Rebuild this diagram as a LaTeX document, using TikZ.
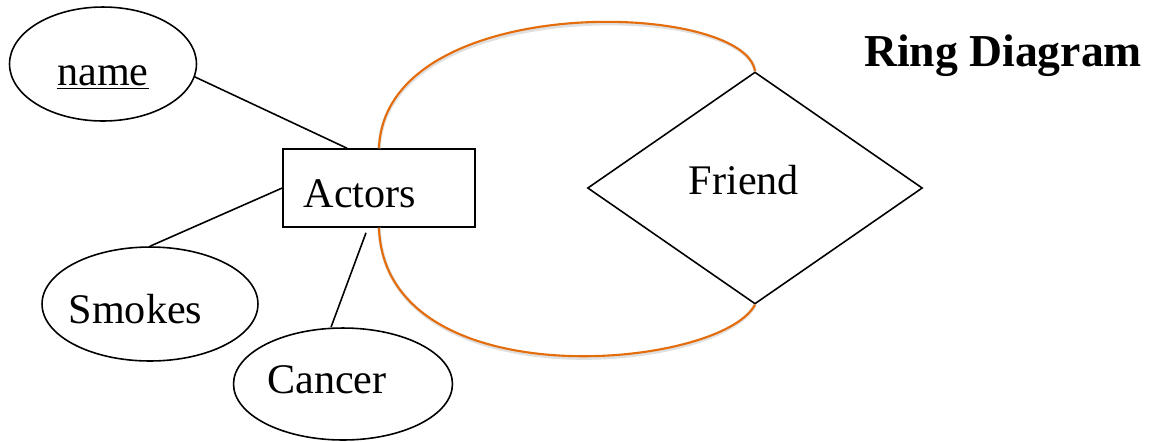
\documentclass[tikz,border=0pt]{standalone}
\usepackage{fontspec}
\setmainfont{Liberation Serif}
\usetikzlibrary{shapes.geometric}

\definecolor{ringorange}{RGB}{228,108,10}
% move a label inside its shape without changing the shape
\newcommand{\nudge}[3]{\raisebox{#2}[\height][\depth]{\hspace*{#1}#3\hspace*{-#1}}}

\begin{document}
\begin{tikzpicture}[x=0.02cm, y=-0.02cm]
    \tikzset{attr/.style={draw, ellipse, line width=0.9pt, minimum height=2.28cm,
                          font=\fontsize{24}{28}\selectfont}}
    \tikzset{entity/.style={draw, rectangle, line width=0.9pt, minimum width=3.84cm,
                            minimum height=1.56cm, font=\fontsize{24}{28}\selectfont}}
    \tikzset{rel/.style={draw, diamond, line width=0.9pt, inner sep=0pt, minimum width=6.7cm,
                         minimum height=4.64cm, font=\fontsize{24}{28}\selectfont}}
    \tikzset{ring/.style={ringorange, line width=1.2pt}}
    \tikzset{ringshadow/.style={black!12, line width=2pt, xshift=0.03cm, yshift=-0.05cm}}
    \useasboundingbox (0,0) rectangle (1150,441);

    \node [entity] (actors) at (379,188) {\nudge{-0.38cm}{-0.12cm}{Actors}};
    \node [rel] (friend) at (755,188) {\nudge{-0.22cm}{0.16cm}{Friend}};
    \node [attr, minimum width=3.74cm] (name) at (103,64) {\nudge{0cm}{-0.28cm}{\underline{name}}};
    \node [attr, minimum width=4.32cm] (smokes) at (150,304) {\nudge{-0.29cm}{-0.1cm}{Smokes}};
    \node [attr, minimum width=4.38cm, minimum height=2.24cm] (cancer) at (343,384) {\nudge{-0.32cm}{0.08cm}{Cancer}};
    \node [font=\fontsize{26}{30}\selectfont\bfseries] (title) at (1003,56) {Ring Diagram};

    \draw [line width=0.9pt] (name.-8) -- ([xshift=-0.64cm]actors.north);
    \draw [line width=0.9pt] (actors.west) -- (smokes.north);
    \draw [line width=0.9pt] ([xshift=-0.26cm,yshift=-0.1cm]actors.south) -- ([xshift=-0.24cm]cancer.north);

    % the ring
    \draw [ringshadow] (actors.north) .. controls (385,-10) and (745,0) .. (friend.north);
    \draw [ringshadow] (actors.south) .. controls (385,400) and (720,370) .. (friend.south);
    \draw [ring] (actors.north) .. controls (385,-10) and (745,0) .. (friend.north);
    \draw [ring] (actors.south) .. controls (385,400) and (720,370) .. (friend.south);
\end{tikzpicture}
\end{document}
